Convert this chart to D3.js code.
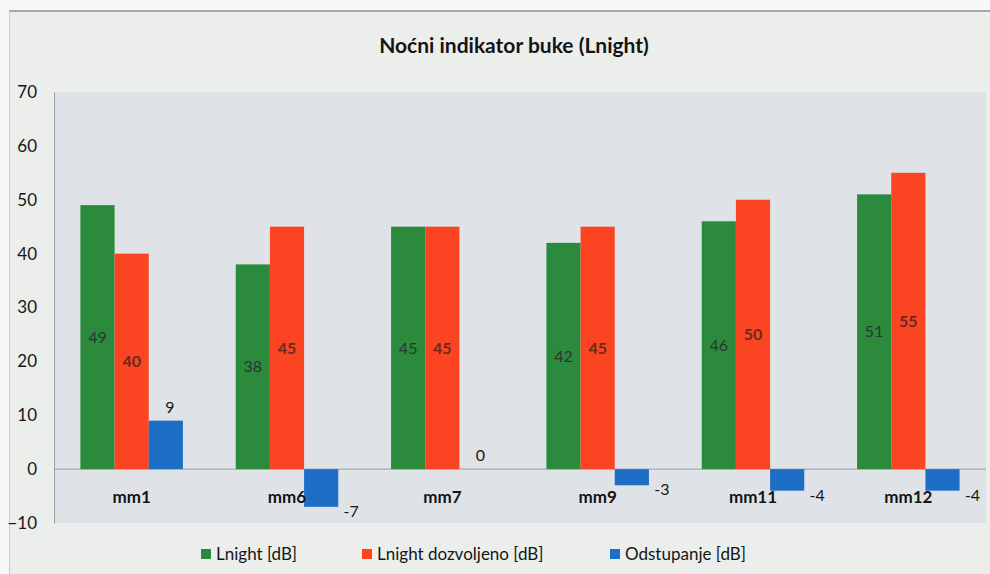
<!DOCTYPE html>
<html lang="hr">
<head>
    <meta charset="UTF-8">
    <title>Noćni indikator buke (Lnight)</title>
    <style>
        body { margin: 0; background: #f6f7f6; font-family: Lato, "Noto Sans", sans-serif; }
        #chart { width: 990px; height: 574px; }
    </style>
    <script src="https://d3js.org/d3.v7.min.js"></script>
</head>
<body>
    <div id="chart"></div>

    <script>
        // chart data
        const categories = ["mm1", "mm6", "mm7", "mm9", "mm11", "mm12"];
        const lnight = [49, 38, 45, 42, 46, 51];
        const dozvoljeno = [40, 45, 45, 45, 50, 55];
        const odstupanje = [9, -7, 0, -3, -4, -4];
        const seriesNames = ["Lnight [dB]", "Lnight dozvoljeno [dB]", "Odstupanje [dB]"];
        const yTicks = [-10, 0, 10, 20, 30, 40, 50, 60, 70];

        const colors = ["#2b8a3b", "#fb4522", "#1e6ec6"];
        const labelColors = ["#2c3434", "#6a2a1c", "#222"];

        const width = 990, height = 574;
        const svg = d3.select('#chart').append('svg')
            .attr('width', width)
            .attr('height', height);

        // outer chart area
        svg.append('rect')
            .attr('x', 9).attr('y', 11)
            .attr('width', width - 9).attr('height', height - 11)
            .attr('fill', '#eceeec');
        svg.append('line')
            .attr('x1', 9).attr('x2', width).attr('y1', 11).attr('y2', 11)
            .attr('stroke', '#8a8f8f').attr('stroke-width', 1.5);
        svg.append('line')
            .attr('x1', 9.5).attr('x2', 9.5).attr('y1', 11).attr('y2', height)
            .attr('stroke', '#c8cccc');

        // scales
        const x = d3.scaleBand()
            .domain(categories)
            .range([54, 986])
            .paddingInner(0.34)
            .paddingOuter(0.17);

        const xs = d3.scaleBand()
            .domain(d3.range(3))
            .range([0, x.bandwidth()]);

        const y = d3.scaleLinear()
            .domain([-10, 70])
            .range([523, 92]);

        // plot area
        svg.append('rect')
            .attr('x', 55).attr('y', y(70))
            .attr('width', 931).attr('height', y(-10) - y(70))
            .attr('fill', '#dfe3e8');

        // zero line
        svg.append('line')
            .attr('x1', 54).attr('x2', 986)
            .attr('y1', y(0)).attr('y2', y(0))
            .attr('stroke', '#9a9ea2');

        // y axis
        const yAxis = svg.append('g')
            .attr('transform', 'translate(54,0)')
            .call(d3.axisLeft(y).tickValues(yTicks).tickSize(0).tickPadding(17).tickFormat(d3.format('d')));
        yAxis.select('.domain').attr('stroke', '#9a9ea2');
        yAxis.selectAll('text')
            .attr('font-family', 'Lato, sans-serif')
            .attr('font-size', 17)
            .attr('fill', '#161616');

        // bars
        const rows = categories.map((c, i) => ({ cat: c, vals: [lnight[i], dozvoljeno[i], odstupanje[i]] }));

        const groups = svg.selectAll('.grp')
            .data(rows)
            .enter().append('g')
              .attr('class', 'grp')
              .attr('transform', d => `translate(${x(d.cat)},0)`);

        groups.selectAll('rect')
            .data(d => d.vals.map((v, k) => ({ v, k })))
            .enter().append('rect')
              .attr('x', d => xs(d.k))
              .attr('y', d => y(Math.max(0, d.v)))
              .attr('width', xs.bandwidth())
              .attr('height', d => Math.abs(y(d.v) - y(0)))
              .attr('fill', d => colors[d.k]);

        // labels inside green and red bars
        groups.selectAll('.inlbl')
            .data(d => d.vals.slice(0, 2).map((v, k) => ({ v, k })))
            .enter().append('text')
              .attr('class', 'inlbl')
              .attr('x', d => xs(d.k) + xs.bandwidth() / 2)
              .attr('y', d => (y(d.v) + y(0)) / 2)
              .attr('dy', '0.35em')
              .attr('text-anchor', 'middle')
              .attr('font-size', 16)
              .attr('font-weight', d => d.k === 1 ? 'bold' : 'normal')
              .attr('fill', d => labelColors[d.k])
              .text(d => d.v);

        // labels for Odstupanje
        groups.append('text')
            .attr('x', d => {
                const cx = xs(2) + xs.bandwidth() / 2;
                return d.vals[2] < 0 ? cx + 30 : cx + 4;
            })
            .attr('y', d => d.vals[2] < 0 ? y(d.vals[2]) + 10 : y(d.vals[2]) - 8)
            .attr('text-anchor', 'middle')
            .attr('font-size', 16)
            .attr('fill', '#161616')
            .text(d => d.vals[2]);

        // category labels
        svg.selectAll('.cat')
            .data(categories)
            .enter().append('text')
              .attr('class', 'cat')
              .attr('x', d => x(d) + x.bandwidth() / 2)
              .attr('y', 503)
              .attr('text-anchor', 'middle')
              .attr('font-size', 17)
              .attr('font-weight', 'bold')
              .attr('fill', '#141414')
              .text(d => d);

        // title
        svg.append('text')
            .attr('x', 514)
            .attr('y', 53)
            .attr('text-anchor', 'middle')
            .attr('font-size', 21)
            .attr('font-weight', 'bold')
            .attr('fill', '#141414')
            .text('Noćni indikator buke (Lnight)');

        // legend
        const legendX = [201, 362, 610];
        const legend = svg.selectAll('.leg')
            .data(seriesNames)
            .enter().append('g')
              .attr('class', 'leg')
              .attr('transform', (d, i) => `translate(${legendX[i]},554)`);
        legend.append('rect')
            .attr('x', 0).attr('y', -5)
            .attr('width', 10).attr('height', 10)
            .attr('fill', (d, i) => colors[i]);
        legend.append('text')
            .attr('x', 15)
            .attr('dy', '0.35em')
            .attr('font-size', 17)
            .attr('fill', '#161616')
            .text(d => d);
    </script>
</body>
</html>
